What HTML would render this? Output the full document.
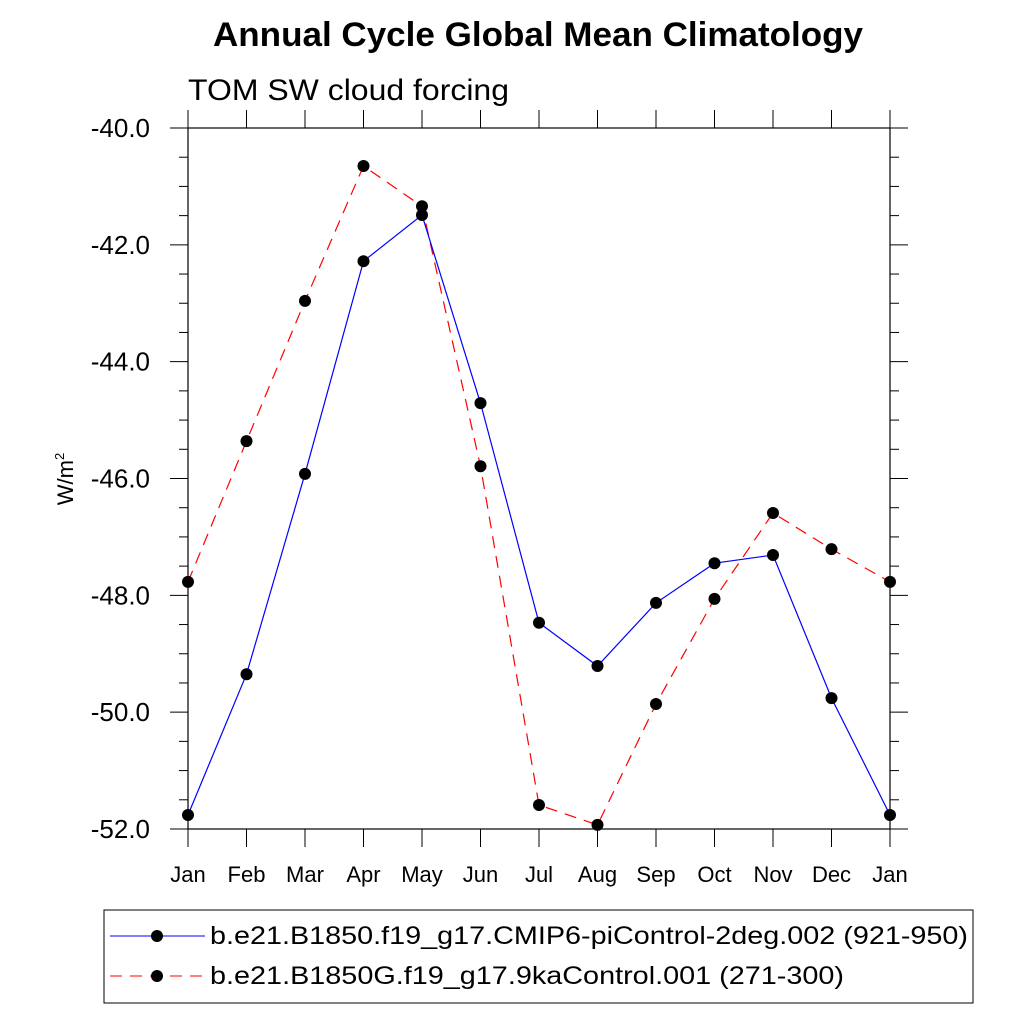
<!DOCTYPE html>
<html><head><meta charset="utf-8"><style>body{margin:0;background:#fff}svg{display:block;font-family:"Liberation Sans",sans-serif}</style></head>
<body>
<svg id="chart" width="1024" height="1024">
<text x="213" y="46" font-size="34" font-weight="bold" textLength="650" lengthAdjust="spacingAndGlyphs">Annual Cycle Global Mean Climatology</text>
<text x="188" y="100" font-size="30" textLength="321" lengthAdjust="spacingAndGlyphs">TOM SW cloud forcing</text>
<text transform="translate(73,479) rotate(-90)" text-anchor="middle" font-size="22">W/m<tspan dy="-9" font-size="13">2</tspan></text>
<g id="axes"></g><g id="series"></g>
<rect x="104" y="910" width="869" height="93" fill="none" stroke="#000" stroke-width="1"/>
<g>
<line x1="110" y1="936" x2="205" y2="936" stroke="#00f" stroke-width="1"/>
<circle cx="157" cy="936" r="6"/>
<text x="210" y="944" font-size="25" textLength="758" lengthAdjust="spacingAndGlyphs">b.e21.B1850.f19_g17.CMIP6-piControl-2deg.002 (921-950)</text></g>
<g>
<line x1="110" y1="976" x2="205" y2="976" stroke="#f00" stroke-width="1" stroke-dasharray="12,8"/>
<circle cx="157" cy="976" r="6"/>
<text x="210" y="984" font-size="25" textLength="634" lengthAdjust="spacingAndGlyphs">b.e21.B1850G.f19_g17.9kaControl.001 (271-300)</text></g>
</svg>
<script>
const months=["Jan","Feb","Mar","Apr","May","Jun","Jul","Aug","Sep","Oct","Nov","Dec","Jan"];
const blueVals=[-51.76,-49.35,-45.92,-42.28,-41.49,-44.71,-48.47,-49.21,-48.13,-47.45,-47.31,-49.76,-51.76];
const redVals=[-47.77,-45.36,-42.96,-40.65,-41.34,-45.79,-51.59,-51.93,-49.86,-48.06,-46.59,-47.21,-47.77];
const yTicks=[-40,-42,-44,-46,-48,-50,-52];
const NS="http://www.w3.org/2000/svg";
const L=188,R=890,T=128,B=829;
const xs=i=>L+(R-L)*i/(months.length-1);
const ys=v=>T+(-40-v)/12*(B-T);
function mk(tag,at,parent){const e=document.createElementNS(NS,tag);for(const k in at)e.setAttribute(k,at[k]);parent.appendChild(e);return e;}
const ax=document.getElementById('axes');
const frame=mk('rect',{x:L,y:T,width:R-L,height:B-T,fill:'none',stroke:'#000','stroke-width':1.2},ax);


for(let v=-40;v>=-52;v-=0.5){const y=ys(v);const major=Math.abs(v%2)<1e-9;const len=major?18:9;
mk('line',{x1:L-len,y1:y,x2:L,y2:y,stroke:'#000'},ax);mk('line',{x1:R,y1:y,x2:R+len,y2:y,stroke:'#000'},ax);}
yTicks.forEach(v=>{const t=mk('text',{x:150,y:ys(v)+9,'text-anchor':'end','font-size':26},ax);t.textContent=v.toFixed(1);

});
months.forEach((m,i)=>{const x=xs(i);mk('line',{x1:x,y1:T-18,x2:x,y2:T,stroke:'#000'},ax);mk('line',{x1:x,y1:B,x2:x,y2:B+18,stroke:'#000'},ax);
const t=mk('text',{x:x,y:882,'text-anchor':'middle','font-size':22},ax);t.textContent=m;

});
const sg=document.getElementById('series');
function series(vals,color,dash,name){const g=mk('g',{},sg);


const pts=vals.map((v,i)=>xs(i)+','+ys(v)).join(' ');
const at={points:pts,fill:'none',stroke:color,'stroke-width':1.2};if(dash)at['stroke-dasharray']=dash;mk('polyline',at,g);
vals.forEach((v,i)=>{const c=mk('circle',{cx:xs(i),cy:ys(v),r:6,fill:'#000'},g);

});}
series(redVals,'#f00','12,8','series-red');
series(blueVals,'#00f',null,'series-blue');
</script>
</body></html>
